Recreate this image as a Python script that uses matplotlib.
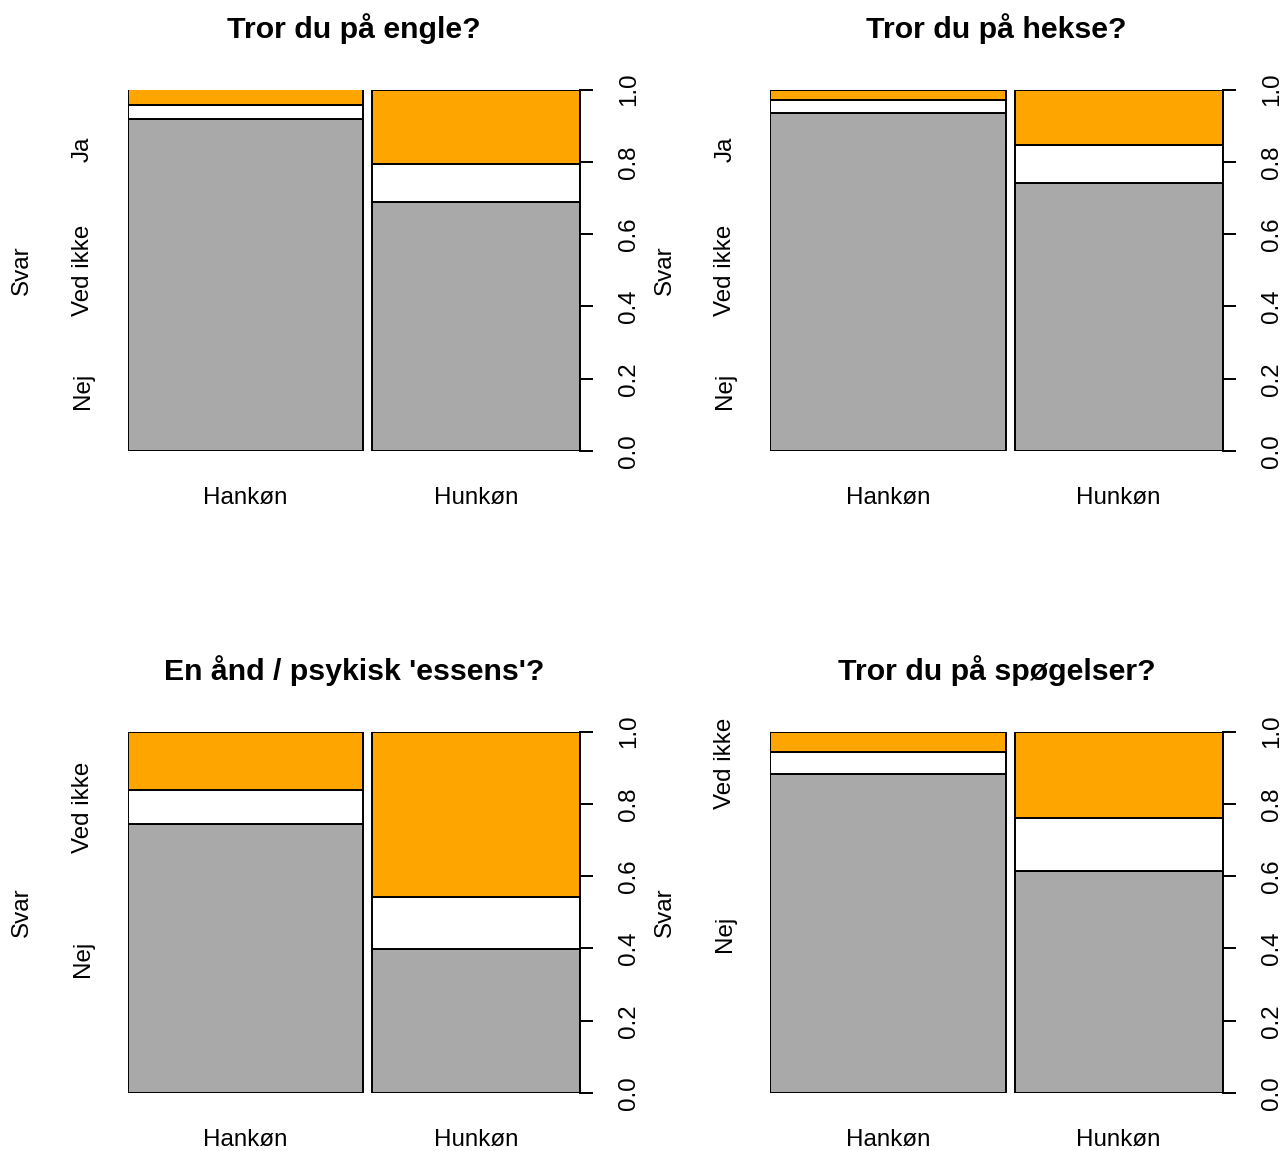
import matplotlib
matplotlib.use("Agg")
import matplotlib.pyplot as plt
from matplotlib.transforms import offset_copy, blended_transform_factory

plt.rcParams['font.family'] = ['Liberation Sans', 'DejaVu Sans']

# ---------------- data ----------------
sex_levels = ["Hankøn", "Hunkøn"]
sex_share = [0.531, 0.469]          # relative widths of the spines
answer_levels = ["Nej", "Ved ikke", "Ja"]
answer_colors = ["#A9A9A9", "#FFFFFF", "#FFA500"]

titles = ["Tror du på engle?", "Tror du på hekse?",
          "En ånd / psykisk 'essens'?", "Tror du på spøgelser?"]

# conditional proportions (Nej, Ved ikke, Ja) per sex
engle_hankoen = [0.919, 0.037, 0.044]
engle_hunkoen = [0.690, 0.105, 0.205]
hekse_hankoen = [0.935, 0.036, 0.029]
hekse_hunkoen = [0.740, 0.106, 0.154]
aand_hankoen = [0.744, 0.095, 0.161]
aand_hunkoen = [0.399, 0.144, 0.457]
spoegelser_hankoen = [0.882, 0.061, 0.057]
spoegelser_hunkoen = [0.614, 0.148, 0.238]

panel_data = [
    (engle_hankoen, engle_hunkoen),
    (hekse_hankoen, hekse_hunkoen),
    (aand_hankoen, aand_hunkoen),
    (spoegelser_hankoen, spoegelser_hunkoen),
]

y_ticks = [0.0, 0.2, 0.4, 0.6, 0.8, 1.0]
y_ticklabels = ["0.0", "0.2", "0.4", "0.6", "0.8", "1.0"]
ylab = "Svar"
gap = 0.02
tol_ylab = 0.05

# ---------------- layout ----------------
W, H = 1282, 1151
fig = plt.figure(figsize=(W / 100, H / 100), dpi=100)

# plot regions in pixels: left, right, top, bottom
regions = [(127.7, 580, 89.5, 451), (770, 1222.7, 89.5, 451),
           (127.7, 580, 731.7, 1093), (770, 1222.7, 731.7, 1093)]

FS = 17.4
LW = 1.4

all_ylabels = []
for (L, R, T, B), title, (m_props, f_props) in zip(regions, titles, panel_data):
    ax = fig.add_axes([L / W, 1 - B / H, (R - L) / W, (B - T) / H])
    ax.set_xlim(0, 1 + gap)
    ax.set_ylim(0, 1)
    for s in ["left", "top", "bottom"]:
        ax.spines[s].set_visible(False)
    ax.spines["right"].set_linewidth(LW)
    ax.spines["right"].set_zorder(5)
    ax.set_xticks([])
    ax.yaxis.tick_right()
    ax.set_yticks(y_ticks)
    ax.tick_params(axis="y", right=True, left=False, labelright=False,
                   labelleft=False, length=9.1, width=LW, direction="out")

    lefts = [0, sex_share[0] + gap]
    props = [m_props, f_props]
    centers = []
    for x0, w, p in zip(lefts, sex_share, props):
        bottom = 0.0
        for val, col in zip(p, answer_colors):
            ax.bar(x0, val, width=w, bottom=bottom, align="edge", color=col,
                   edgecolor="black", linewidth=LW, zorder=2)
            bottom += val
        centers.append(x0 + w / 2)

    # x category labels
    tx = offset_copy(blended_transform_factory(ax.transData, ax.transAxes),
                     fig=fig, y=-52.5, units="dots")
    for c, lab in zip(centers, sex_levels):
        ax.text(c, 0, lab, transform=tx, ha="center", va="baseline", fontsize=FS)

    # right-axis tick labels (rotated)
    tr = offset_copy(blended_transform_factory(ax.transAxes, ax.transData),
                     fig=fig, x=55, units="dots")
    for yv, lab in zip(y_ticks, y_ticklabels):
        ax.text(1, yv, lab, transform=tr, rotation=90, rotation_mode="anchor",
                ha="center", va="baseline", fontsize=FS)

    # left axis labels (R spineplot logic)
    cum = [0.0]
    for v in m_props:
        cum.append(cum[-1] + v)
    diffs = [cum[i + 1] - cum[i] for i in range(len(m_props))]
    n = len(m_props)
    if any(d < tol_ylab for d in diffs):
        yat = [(2 * i + 1) / (2 * n) for i in range(n)]
    else:
        yat = [(cum[i] + cum[i + 1]) / 2 for i in range(n)]
    tl = offset_copy(blended_transform_factory(ax.transAxes, ax.transData),
                     fig=fig, x=-38.7, units="dots")
    labs = []
    for yv, lab in zip(yat, answer_levels):
        t = ax.text(0, yv, lab, transform=tl, rotation=90, rotation_mode="anchor",
                    ha="center", va="baseline", fontsize=FS)
        labs.append(t)
    all_ylabels.append(labs)

    # y axis title
    ts = offset_copy(ax.transAxes, fig=fig, x=-99.4, units="dots")
    ax.text(0, 0.5, ylab, transform=ts, rotation=90, rotation_mode="anchor",
            ha="center", va="baseline", fontsize=FS)

    # main title
    tt = offset_copy(ax.transAxes, fig=fig, y=51.5, units="dots")
    ax.text(0.5, 1, title, transform=tt, ha="center", va="baseline",
            fontsize=21.8, fontweight="bold")

# drop overlapping axis labels, as R's axis() does
fig.canvas.draw()
renderer = fig.canvas.get_renderer()
for labs in all_ylabels:
    kept = []
    for t in labs:
        bb = t.get_window_extent(renderer)
        overlap = any(bb.y0 < k.y1 + 6 and bb.y1 > k.y0 - 6 for k in kept)
        if overlap:
            t.set_visible(False)
        else:
            kept.append(bb)

fig.savefig("out.png", dpi=100)
